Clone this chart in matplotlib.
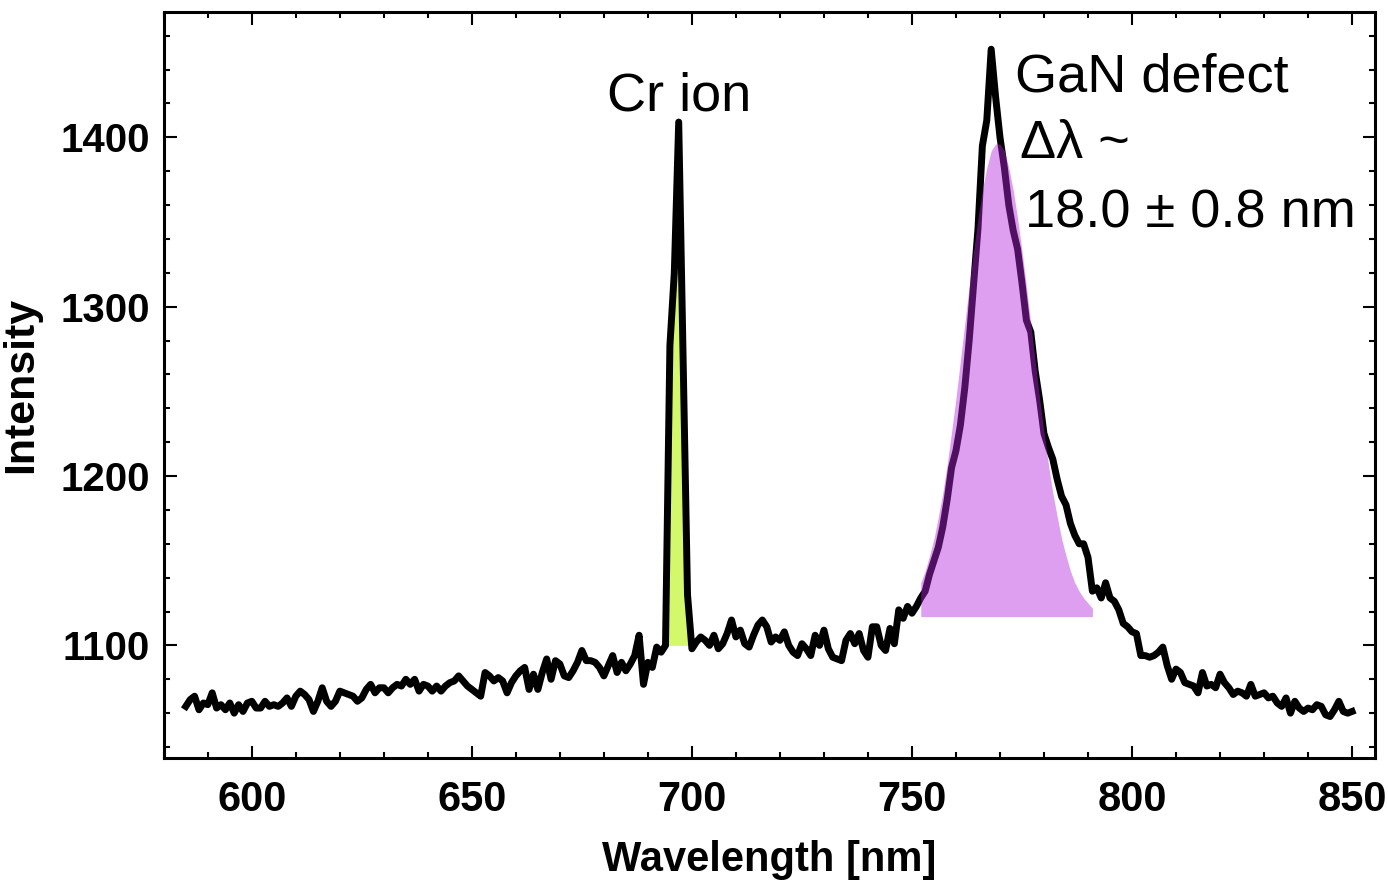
import numpy as np
import matplotlib
matplotlib.use("Agg")
import matplotlib.pyplot as plt
from matplotlib.ticker import MultipleLocator

# espectro medido (passo de 1 nm, de 585 a 850 nm)
wl_start = 585
wl_stop = 850
intensity = [
    1064, 1068, 1070, 1062, 1066, 1065, 1072, 1063, 1065, 1062,
    1066, 1060, 1065, 1061, 1066, 1067, 1063, 1063, 1067, 1064,
    1065, 1064, 1066, 1069, 1064, 1070, 1073, 1071, 1068, 1061,
    1067, 1075, 1067, 1064, 1067, 1073, 1072, 1071, 1070, 1067,
    1069, 1074, 1077, 1072, 1075, 1075, 1072, 1075, 1077, 1076,
    1080, 1077, 1080, 1073, 1077, 1076, 1073, 1076, 1073, 1076,
    1078, 1079, 1082, 1079, 1076, 1074, 1072, 1070, 1084, 1082,
    1079, 1081, 1079, 1072, 1078, 1082, 1085, 1087, 1074, 1083,
    1074, 1084, 1092, 1080, 1091, 1089, 1082, 1081, 1085, 1090,
    1097, 1091, 1091, 1090, 1087, 1082, 1088, 1094, 1084, 1090,
    1085, 1089, 1094, 1106, 1077, 1090, 1087, 1099, 1096, 1100,
    1277, 1320, 1409, 1270, 1130, 1098, 1102, 1105, 1103, 1100,
    1106, 1098, 1101, 1107, 1115, 1105, 1109, 1101, 1099, 1106,
    1112, 1115, 1111, 1102, 1105, 1103, 1108, 1100, 1096, 1094,
    1101, 1098, 1094, 1106, 1100, 1109, 1098, 1093, 1092, 1091,
    1103, 1107, 1101, 1107, 1097, 1093, 1111, 1111, 1100, 1097,
    1110, 1101, 1121, 1116, 1123, 1119, 1123, 1128, 1132, 1142,
    1150, 1158, 1170, 1186, 1205, 1215, 1230, 1252, 1280, 1313,
    1346, 1395, 1410, 1452, 1424, 1400, 1382, 1360, 1345, 1334,
    1314, 1292, 1285, 1262, 1245, 1225, 1217, 1210, 1198, 1188,
    1183, 1172, 1165, 1160, 1160, 1152, 1132, 1134, 1128, 1137,
    1128, 1126, 1121, 1113, 1111, 1108, 1107, 1094, 1094, 1093,
    1094, 1096, 1099, 1088, 1080, 1086, 1084, 1078, 1077, 1076,
    1072, 1084, 1076, 1077, 1075, 1083, 1078, 1075, 1071, 1073,
    1072, 1070, 1077, 1070, 1071, 1072, 1069, 1070, 1066, 1064,
    1069, 1060, 1067, 1063, 1061, 1063, 1062, 1065, 1064, 1059,
    1058, 1062, 1067, 1061, 1060, 1061,
]

# pico do ion de Cr (regiao preenchida)
cr_start = 694
cr_stop = 700
cr_base = 1100

# ajuste do defeito do GaN (curva preenchida)
fit_wl = list(range(752, 792))
fit_int = [
    1137, 1144, 1153, 1163, 1176, 1190, 1207, 1226, 1246, 1268,
    1290, 1312, 1333, 1352, 1369, 1382, 1392, 1396, 1396, 1392,
    1382, 1369, 1352, 1333, 1312, 1290, 1268, 1246, 1226, 1207,
    1190, 1176, 1163, 1153, 1144, 1137, 1132, 1128, 1125, 1122,
]
fit_base = 1117

wl = np.arange(wl_start, wl_stop + 1)
intensity = np.array(intensity)

fig = plt.figure(figsize=(13.88, 8.8), dpi=100)
ax = fig.add_axes([0.118, 0.1386, 0.8726, 0.8478])

# preenchimento verde do Cr
m = (wl >= cr_start) & (wl <= cr_stop)
ax.fill_between(wl[m], cr_base, intensity[m], color="#d4f86c", lw=0, zorder=1)

ax.plot(wl, intensity, color="black", lw=5, zorder=2)

# ajuste roxo por cima da linha
ax.fill_between(fit_wl, fit_base, fit_int, color="#b826de", alpha=0.44, lw=0, zorder=3)

ax.set_xlim(580, 855.2)
ax.set_ylim(1033.5, 1474)

ax.xaxis.set_major_locator(MultipleLocator(50))
ax.xaxis.set_minor_locator(MultipleLocator(10))
ax.yaxis.set_major_locator(MultipleLocator(100))
ax.yaxis.set_minor_locator(MultipleLocator(20))

ax.tick_params(which="both", direction="in", top=True, right=True, width=1.5)
ax.tick_params(which="major", length=9)
ax.tick_params(which="minor", length=4.5)
for s in ax.spines.values():
    s.set_linewidth(2.2)

bold = ["Liberation Sans", "DejaVu Sans"]
for lab in ax.get_xticklabels():
    lab.set_fontfamily(bold)
    lab.set_fontweight("bold")
    lab.set_fontsize(30)
for lab in ax.get_yticklabels():
    lab.set_fontfamily(bold)
    lab.set_fontweight("bold")
    lab.set_fontsize(29)
ax.tick_params(axis="x", pad=16)
ax.tick_params(axis="y", pad=10)

ax.set_xlabel("Wavelength [nm]", family=bold, weight="bold", fontsize=30, labelpad=14)
ax.set_ylabel("Intensity", family=bold, weight="bold", fontsize=31, labelpad=14)

fs = 39
fam = ["Liberation Sans", "DejaVu Sans"]
ax.text(697.0, 1416, "Cr ion", ha="center", va="baseline", fontsize=fs, family=fam)
ax.text(773.4, 1427, "GaN defect", ha="left", va="baseline", fontsize=fs, family=fam)
ax.text(774.5, 1388, "Δλ ~", ha="left", va="baseline", fontsize=fs, family=fam)
ax.text(775.7, 1346.5, "18.0 ± 0.8 nm", ha="left", va="baseline", fontsize=fs, family=fam)

plt.savefig("out.png", dpi=100)
